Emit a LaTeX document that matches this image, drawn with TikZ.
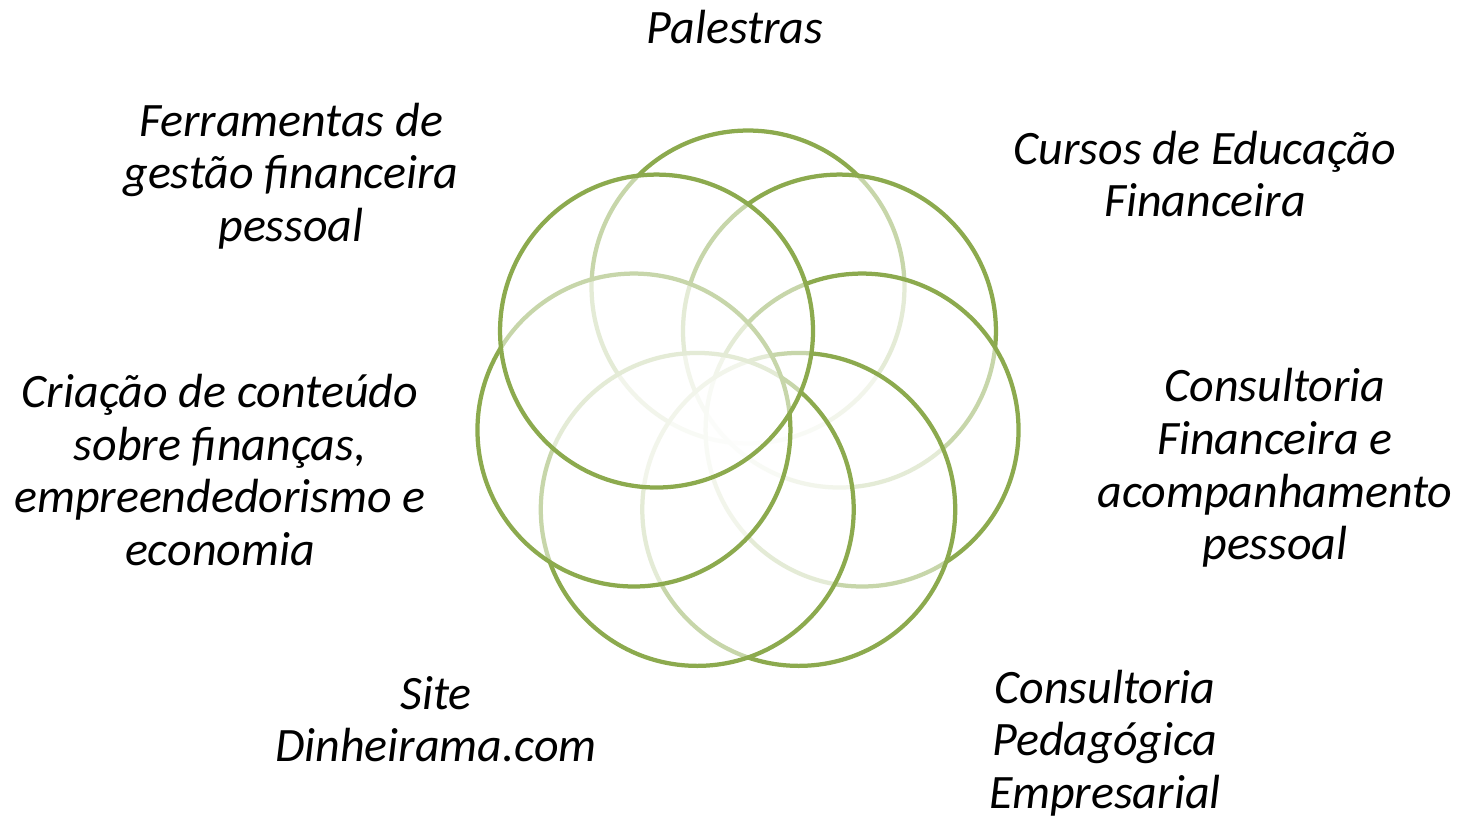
\documentclass[tikz,border=0pt]{standalone}
\usepackage{fontspec}
\setmainfont{Carlito}
\definecolor{ringgreen}{HTML}{8CAA4E}
\tikzset{
  ring/.style={circle, draw=ringgreen, line width=0.085cm, fill=white,
    fill opacity=0.52, minimum size=6.26cm, inner sep=0pt},
  lbl/.style={align=center, font=\fontsize{27.3}{29.9}\selectfont\itshape}
}
\begin{document}
\begin{tikzpicture}[x=0.02cm,y=0.02cm]
      \useasboundingbox (0,0) rectangle (1458,816);
      \coordinate (mid) at (748,412);
      \path
        ([shift={(90.00:117)}]mid) node[ring] (0){}
        ([shift={(38.57:117)}]mid) node[ring] (1){}
        ([shift={(-12.86:117)}]mid) node[ring] (2){}
        ([shift={(-64.29:117)}]mid) node[ring] (3){}
        ([shift={(-115.71:117)}]mid) node[ring] (4){}
        ([shift={(-167.14:117)}]mid) node[ring] (5){}
        ([shift={(141.43:117)}]mid) node[ring] (6){};
      \begin{scope}[every node/.style={lbl}]
        \node (palestras) at (735,789) {Palestras};
        \node (cursos) at (1205,642) {Cursos de Educação\\Financeira};
        \node (consultoria) at (1275,348) {Consultoria\\Financeira e\\acompanhamento\\pessoal};
        \node (pedagogica) at (1105,73) {Consultoria\\Pedagógica\\Empresarial};
        \node (site) at (436,97) {Site\\Dinheirama.com};
        \node (criacao) at (220,346) {Criação de conteúdo\\sobre finanças,\\empreendedorismo e\\economia};
        \node (ferramentas) at (291,640) {Ferramentas de\\gestão financeira\\pessoal};
      \end{scope}
    \end{tikzpicture}
\end{document}
